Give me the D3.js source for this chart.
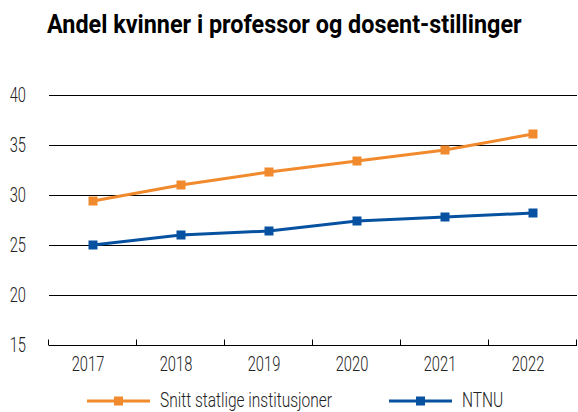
<!DOCTYPE html>
<html>
<head>
<meta charset="utf-8">
<script src="https://cdn.jsdelivr.net/npm/d3@7"></script>
<style>
  body { margin: 0; background: #fff; }
  svg { font-family: Roboto, "Open Sans", sans-serif; }
  .title { font-weight: bold; font-size: 25px; fill: #000; }
  .tick-label { font-size: 21px; font-weight: 300; fill: #222; }
  .legend-label { font-size: 20px; font-weight: 300; fill: #222; }
</style>
</head>
<body>
<div id="chart"></div>
<script>
var years = ["2017", "2018", "2019", "2020", "2021", "2022"];
var snitt = [29.4, 31.0, 32.3, 33.4, 34.5, 36.1];
var ntnu = [25.0, 26.0, 26.4, 27.4, 27.8, 28.2];
var yTicks = [15, 20, 25, 30, 35, 40];

var series = [
  { name: "Snitt statlige institusjoner", values: snitt, color: "#f08a2c" },
  { name: "NTNU", values: ntnu, color: "#0652a0" }
];

var width = 578, height = 412;
var margins = { top: 95, right: 1, bottom: 67, left: 49 };
var narrow = 0.70; // fake condensed face
var narrowLegend = 0.775;

var svg = d3.select("#chart").append("svg")
  .attr("width", width)
  .attr("height", height);

// place a text squeezed horizontally
function squeeze(sel, px, py, sx) {
  sel.attr("x", 0).attr("y", 0)
    .attr("transform", function(d, i) {
      var xx = typeof px === "function" ? px(d, i) : px;
      var yy = typeof py === "function" ? py(d, i) : py;
      return "translate(" + xx + "," + yy + ") scale(" + sx + ",1)";
    });
}

var title = svg.append("text")
  .attr("class", "title")
  .text("Andel kvinner i professor og dosent-stillinger");
var titleW = title.node().getComputedTextLength();
squeeze(title, 47, 33, 475 / titleW);

var x = d3.scaleBand()
  .domain(years)
  .range([margins.left, width - margins.right]);

var y = d3.scaleLinear()
  .domain([15, 40])
  .range([height - margins.bottom, margins.top]);

// gridlines + y labels
var grid = svg.append("g");
grid.selectAll("line")
  .data(yTicks.filter(d => d > 15))
  .join("line")
  .attr("x1", margins.left)
  .attr("x2", width - margins.right)
  .attr("y1", d => Math.round(y(d)) + 0.5)
  .attr("y2", d => Math.round(y(d)) + 0.5)
  .attr("stroke", "#000")
  .attr("stroke-width", 1);

grid.selectAll("text")
  .data(yTicks)
  .join("text")
  .attr("class", "tick-label")
  .attr("text-anchor", "end")
  .text(d => d)
  .call(squeeze, 26, d => y(d) + 7, narrow);

// x axis with ticks pointing up at band edges
var axisY = Math.round(y(15)) + 0.5;
var xAxis = svg.append("g");
xAxis.append("line")
  .attr("x1", margins.left)
  .attr("x2", width - margins.right)
  .attr("y1", axisY)
  .attr("y2", axisY)
  .attr("stroke", "#000");

var edges = years.map(d => x(d)).concat([x.range()[1]]);
xAxis.selectAll(".edge")
  .data(edges)
  .join("line")
  .attr("class", "edge")
  .attr("x1", d => Math.round(d) - 0.5)
  .attr("x2", d => Math.round(d) - 0.5)
  .attr("y1", axisY)
  .attr("y2", axisY - 6)
  .attr("stroke", "#000");

xAxis.selectAll("text")
  .data(years)
  .join("text")
  .attr("class", "tick-label")
  .attr("text-anchor", "middle")
  .text(d => d)
  .call(squeeze, d => x(d) + x.bandwidth() / 2 - 5, axisY + 25, narrow);

// lines
var line = d3.line()
  .x((d, i) => x(years[i]) + x.bandwidth() / 2)
  .y(d => y(d));

var s = svg.selectAll(".series")
  .data(series)
  .join("g")
  .attr("class", "series");

s.append("path")
  .attr("d", d => line(d.values))
  .attr("fill", "none")
  .attr("stroke", d => d.color)
  .attr("stroke-width", 3);

s.each(function(d) {
  d3.select(this).selectAll("rect")
    .data(d.values)
    .join("rect")
    .attr("x", (v, i) => x(years[i]) + x.bandwidth() / 2 - 4.5)
    .attr("y", v => y(v) - 4.5)
    .attr("width", 9)
    .attr("height", 9)
    .attr("fill", d.color);
});

// legend
var legendItems = [
  { s: series[0], x0: 87 },
  { s: series[1], x0: 389 }
];
var legendY = 401;
var lg = svg.selectAll(".legend")
  .data(legendItems)
  .join("g")
  .attr("class", "legend")
  .attr("transform", d => "translate(" + d.x0 + "," + legendY + ")");

lg.append("line")
  .attr("x1", 0).attr("x2", 63)
  .attr("y1", 0).attr("y2", 0)
  .attr("stroke", d => d.s.color)
  .attr("stroke-width", 3);
lg.append("rect")
  .attr("x", 27).attr("y", -4.5)
  .attr("width", 9).attr("height", 9)
  .attr("fill", d => d.s.color);
lg.append("text")
  .attr("class", "legend-label")
  .text(d => d.s.name)
  .call(squeeze, 73, 5.5, narrowLegend);
</script>
</body>
</html>
